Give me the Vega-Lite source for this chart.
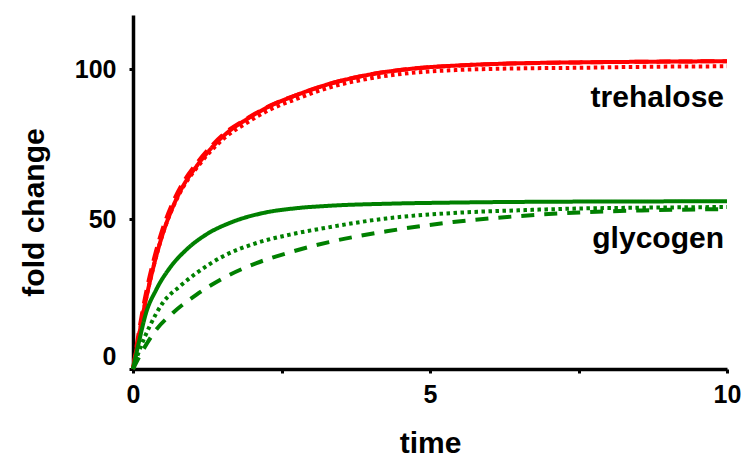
{
  "$schema": "https://vega.github.io/schema/vega-lite/v6.json",
  "width": 594,
  "height": 354,
  "autosize": {"type": "none"},
  "padding": {"left": 133, "top": 15, "right": 24, "bottom": 98},
  "background": "white",
  "config": {
    "view": {"stroke": null},
    "axis": {
      "domainColor": "black", "domainWidth": 3.5, "tickColor": "black", "tickWidth": 3, "tickSize": 4, "grid": false,
      "labelFont": "Liberation Sans", "labelFontWeight": "bold", "labelFontSize": 25, "labelColor": "black",
      "titleFont": "Liberation Sans", "titleFontWeight": "bold", "titleFontSize": 30, "titleColor": "black"
    }
  },
  "datasets": {
    "curves": [
      {"series": "tre_solid", "t": 0, "y": 0}, {"series": "tre_solid", "t": 0.1, "y": 11}, {"series": "tre_solid", "t": 0.2, "y": 21.5}, {"series": "tre_solid", "t": 0.35, "y": 34.5}, {"series": "tre_solid", "t": 0.5, "y": 45}, {"series": "tre_solid", "t": 0.67, "y": 54}, {"series": "tre_solid", "t": 0.84, "y": 60.9}, {"series": "tre_solid", "t": 1.07, "y": 67.6}, {"series": "tre_solid", "t": 1.29, "y": 73}, {"series": "tre_solid", "t": 1.57, "y": 78.5}, {"series": "tre_solid", "t": 1.91, "y": 83.2}, {"series": "tre_solid", "t": 2.3, "y": 87.6}, {"series": "tre_solid", "t": 2.75, "y": 91.3}, {"series": "tre_solid", "t": 3.3, "y": 95}, {"series": "tre_solid", "t": 4.0, "y": 98.2}, {"series": "tre_solid", "t": 4.8, "y": 100.3}, {"series": "tre_solid", "t": 5.5, "y": 101.2}, {"series": "tre_solid", "t": 6.5, "y": 101.9}, {"series": "tre_solid", "t": 7.5, "y": 102.2}, {"series": "tre_solid", "t": 8.5, "y": 102.4}, {"series": "tre_solid", "t": 10, "y": 102.6},

      {"series": "tre_dash", "t": 0, "y": 0}, {"series": "tre_dash", "t": 0.1, "y": 12.5}, {"series": "tre_dash", "t": 0.2, "y": 23.5}, {"series": "tre_dash", "t": 0.35, "y": 36.5}, {"series": "tre_dash", "t": 0.5, "y": 46.8}, {"series": "tre_dash", "t": 0.67, "y": 55.5}, {"series": "tre_dash", "t": 0.84, "y": 62}, {"series": "tre_dash", "t": 1.07, "y": 68.5}, {"series": "tre_dash", "t": 1.29, "y": 73.7}, {"series": "tre_dash", "t": 1.57, "y": 79}, {"series": "tre_dash", "t": 1.91, "y": 83.4}, {"series": "tre_dash", "t": 2.3, "y": 87.7}, {"series": "tre_dash", "t": 2.75, "y": 91.3}, {"series": "tre_dash", "t": 3.3, "y": 95}, {"series": "tre_dash", "t": 4.0, "y": 98.2}, {"series": "tre_dash", "t": 4.8, "y": 100.3}, {"series": "tre_dash", "t": 5.5, "y": 101.2}, {"series": "tre_dash", "t": 6.5, "y": 101.9}, {"series": "tre_dash", "t": 7.5, "y": 102.2}, {"series": "tre_dash", "t": 8.5, "y": 102.4}, {"series": "tre_dash", "t": 10, "y": 102.6},

      {"series": "tre_dot", "t": 0, "y": 0}, {"series": "tre_dot", "t": 0.1, "y": 11}, {"series": "tre_dot", "t": 0.2, "y": 21.5}, {"series": "tre_dot", "t": 0.35, "y": 34.5}, {"series": "tre_dot", "t": 0.5, "y": 45}, {"series": "tre_dot", "t": 0.67, "y": 53.8}, {"series": "tre_dot", "t": 0.84, "y": 60.5}, {"series": "tre_dot", "t": 1.07, "y": 67}, {"series": "tre_dot", "t": 1.29, "y": 72.2}, {"series": "tre_dot", "t": 1.57, "y": 77.5}, {"series": "tre_dot", "t": 1.91, "y": 82}, {"series": "tre_dot", "t": 2.3, "y": 86.4}, {"series": "tre_dot", "t": 2.75, "y": 90}, {"series": "tre_dot", "t": 3.3, "y": 93.8}, {"series": "tre_dot", "t": 4.0, "y": 96.9}, {"series": "tre_dot", "t": 4.8, "y": 98.9}, {"series": "tre_dot", "t": 5.5, "y": 99.7}, {"series": "tre_dot", "t": 6.5, "y": 100.2}, {"series": "tre_dot", "t": 7.5, "y": 100.4}, {"series": "tre_dot", "t": 8.5, "y": 100.7}, {"series": "tre_dot", "t": 10, "y": 100.9},

      {"series": "gly_solid", "t": 0, "y": 0}, {"series": "gly_solid", "t": 0.1, "y": 9}, {"series": "gly_solid", "t": 0.22, "y": 18.7}, {"series": "gly_solid", "t": 0.39, "y": 26.4}, {"series": "gly_solid", "t": 0.62, "y": 33.7}, {"series": "gly_solid", "t": 0.9, "y": 39.8}, {"series": "gly_solid", "t": 1.23, "y": 44.8}, {"series": "gly_solid", "t": 1.63, "y": 48.7}, {"series": "gly_solid", "t": 2.19, "y": 52}, {"series": "gly_solid", "t": 2.75, "y": 53.6}, {"series": "gly_solid", "t": 3.3, "y": 54.4}, {"series": "gly_solid", "t": 4.3, "y": 55.1}, {"series": "gly_solid", "t": 5.5, "y": 55.5}, {"series": "gly_solid", "t": 7.5, "y": 55.8}, {"series": "gly_solid", "t": 10, "y": 55.9},

      {"series": "gly_dot", "t": 0, "y": 0}, {"series": "gly_dot", "t": 0.11, "y": 6.4}, {"series": "gly_dot", "t": 0.28, "y": 14.2}, {"series": "gly_dot", "t": 0.5, "y": 22}, {"series": "gly_dot", "t": 0.79, "y": 27.6}, {"series": "gly_dot", "t": 1.07, "y": 32}, {"series": "gly_dot", "t": 1.52, "y": 37.6}, {"series": "gly_dot", "t": 2.08, "y": 42}, {"series": "gly_dot", "t": 2.64, "y": 44.8}, {"series": "gly_dot", "t": 3.2, "y": 46.9}, {"series": "gly_dot", "t": 4.27, "y": 50.2}, {"series": "gly_dot", "t": 5.39, "y": 52}, {"series": "gly_dot", "t": 6.5, "y": 52.9}, {"series": "gly_dot", "t": 7.52, "y": 53.5}, {"series": "gly_dot", "t": 8.7, "y": 53.8}, {"series": "gly_dot", "t": 10, "y": 54},

      {"series": "gly_dash", "t": 0, "y": 0}, {"series": "gly_dash", "t": 0.17, "y": 6.4}, {"series": "gly_dash", "t": 0.39, "y": 13.1}, {"series": "gly_dash", "t": 0.67, "y": 18.7}, {"series": "gly_dash", "t": 1.07, "y": 24.8}, {"series": "gly_dash", "t": 1.52, "y": 30.3}, {"series": "gly_dash", "t": 2.08, "y": 35.3}, {"series": "gly_dash", "t": 2.64, "y": 38.9}, {"series": "gly_dash", "t": 3.3, "y": 42.3}, {"series": "gly_dash", "t": 4.27, "y": 45.9}, {"series": "gly_dash", "t": 5.39, "y": 49}, {"series": "gly_dash", "t": 6.51, "y": 51}, {"series": "gly_dash", "t": 7.52, "y": 52.2}, {"series": "gly_dash", "t": 8.7, "y": 52.9}, {"series": "gly_dash", "t": 10, "y": 53.3}
    ],
    "labels": [
      {"label": "trehalose", "t": 10, "y": 87.3},
      {"label": "glycogen", "t": 10, "y": 40.3}
    ]
  },
  "layer": [
    {
      "data": {"name": "curves"},
      "mark": {"type": "line", "interpolate": "monotone", "clip": false},
      "encoding": {
        "x": {"field": "t", "type": "quantitative", "scale": {"domain": [0, 10], "nice": false},
          "axis": {"title": "time", "values": [0, 2.5, 5, 7.5, 10], "format": "~g", "labelExpr": "datum.value % 5 === 0 ? datum.label : ''", "labelPadding": 9, "titlePadding": 21, "labelFlush": false}},
        "y": {"field": "y", "type": "quantitative", "scale": {"domain": [0, 118], "nice": false},
          "axis": {"title": "fold change", "values": [0, 50, 100], "labelPadding": 13, "titlePadding": 25, "titleY": 197, "labelFlush": true}},
        "detail": {"field": "series"},
        "color": {"field": "series", "type": "nominal", "legend": null,
          "scale": {"domain": ["tre_solid", "tre_dash", "tre_dot", "gly_solid", "gly_dash", "gly_dot"],
                    "range": ["#ff0000", "#ff0000", "#ff0000", "#008000", "#008000", "#008000"]}},
        "strokeDash": {"field": "series", "type": "nominal", "legend": null,
          "scale": {"domain": ["tre_solid", "tre_dash", "tre_dot", "gly_solid", "gly_dash", "gly_dot"],
                    "range": [[1, 0], [14, 8], [3.5, 3.5], [1, 0], [13, 10], [3.5, 3.5]]}},
        "strokeWidth": {"field": "series", "type": "nominal", "legend": null,
          "scale": {"domain": ["tre_solid", "tre_dash", "tre_dot", "gly_solid", "gly_dash", "gly_dot"],
                    "range": [4, 4, 4, 3.3, 3.5, 3.5]}}
      }
    },
    {
      "data": {"name": "labels"},
      "mark": {"type": "text", "align": "right", "baseline": "alphabetic", "dx": -3, "font": "Liberation Sans", "fontWeight": "bold", "fontSize": 30, "color": "black"},
      "encoding": {
        "x": {"field": "t", "type": "quantitative"},
        "y": {"field": "y", "type": "quantitative"},
        "text": {"field": "label"}
      }
    }
  ]
}
